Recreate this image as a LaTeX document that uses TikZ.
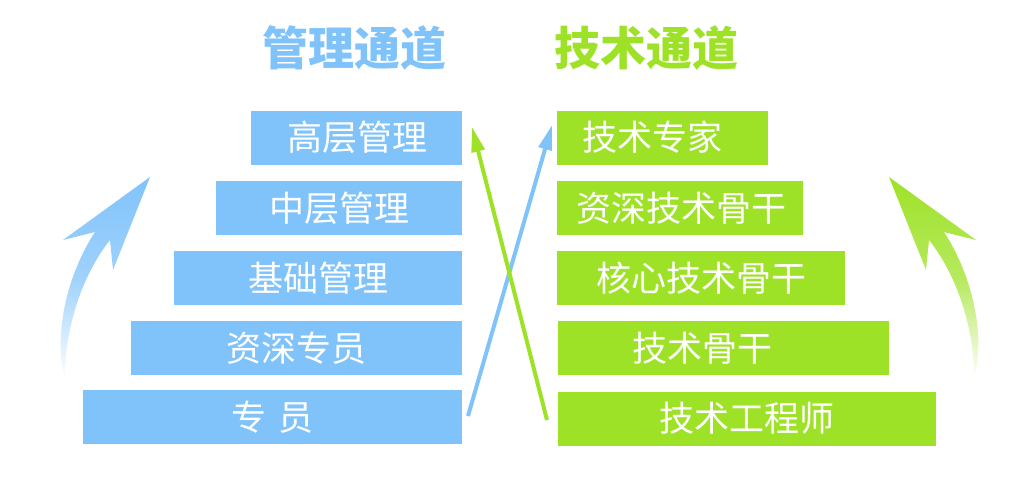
\documentclass[tikz,border=0pt]{standalone}
\usepackage{fontspec}
\newfontfamily\cjk{Noto Sans CJK SC}
\usetikzlibrary{arrows.meta}
\definecolor{mblue}{RGB}{128,195,251}
\definecolor{mgreen}{RGB}{158,226,40}
\begin{document}
\begin{tikzpicture}[x=1pt,y=-1pt,
  box/.style={inner sep=0pt, minimum height=54pt},
  bbox/.style={box, fill=mblue},
  gbox/.style={box, fill=mgreen},
  lbl/.style={text=white, font=\cjk\fontsize{35pt}{35pt}\selectfont, inner sep=0pt},
  ttl/.style={font=\cjk\bfseries\fontsize{46pt}{46pt}\selectfont, inner sep=0pt},
  xarrow/.style={line width=4pt, -{Triangle[length=25pt,width=13pt]}},
]
\useasboundingbox (0,0) rectangle (1031,485);

% titles
\node[ttl, text=mblue] (t1) at (354,48.5) {管理通道};
\node[ttl, text=mgreen] (t2) at (646,48.5) {技术通道};

% blue boxes
\node[bbox, minimum width=211pt] (b1) at (356.5,137.5) {};
\node[bbox, minimum width=246pt] (b2) at (339,208) {};
\node[bbox, minimum width=288pt] (b3) at (318,278) {};
\node[bbox, minimum width=331pt] (b4) at (296.5,348) {};
\node[bbox, minimum width=379pt] (b5) at (272.5,417) {};
\node[lbl] (lb1) at (357,137.5) {高层管理};
\node[lbl] (lb2) at (339,208) {中层管理};
\node[lbl] (lb3) at (318,278) {基础管理};
\node[lbl] (lb4) at (296.5,348) {资深专员};
\node[lbl] (lb5) at (272.5,417) {专\hspace{12pt}员};

% green boxes
\node[gbox, minimum width=211pt] (g1) at (662.5,137.5) {};
\node[gbox, minimum width=246pt] (g2) at (680,208) {};
\node[gbox, minimum width=288pt] (g3) at (701,278) {};
\node[gbox, minimum width=331pt] (g4) at (723.5,348) {};
\node[gbox, minimum width=378pt] (g5) at (747,418.5) {};
\node[lbl] (lg1) at (652,137.5) {技术专家};
\node[lbl] (lg2) at (681,208) {资深技术骨干};
\node[lbl] (lg3) at (701.5,278) {核心技术骨干};
\node[lbl] (lg4) at (702.5,348) {技术骨干};
\node[lbl] (lg5) at (747,418.5) {技术工程师};

% crossing arrows
\coordinate (bs) at (468,416);
\coordinate (bt) at (552,125);
\coordinate (gs) at (547,420);
\coordinate (gt) at (472,127);
\draw[xarrow, mblue] (bs) -- (bt);
\draw[xarrow, mgreen] (gs) -- (gt);

% big curved arrows
\path[shade, top color=mblue, bottom color=white, middle color=mblue!75]
  (150,177) -- (63,240) -- (95,232)
  .. controls (70,270) and (52,330) .. (65,380)
  .. controls (64,330) and (82,275) .. (110,240)
  -- (113,270) -- cycle;
\begin{scope}[shift={(1039,0)}, xscale=-1]
\path[shade, top color=mgreen, bottom color=white, middle color=mgreen!75]
  (150,177) -- (63,240) -- (95,232)
  .. controls (70,270) and (52,330) .. (65,380)
  .. controls (64,330) and (82,275) .. (110,240)
  -- (113,270) -- cycle;
\end{scope}
\end{tikzpicture}
\end{document}
